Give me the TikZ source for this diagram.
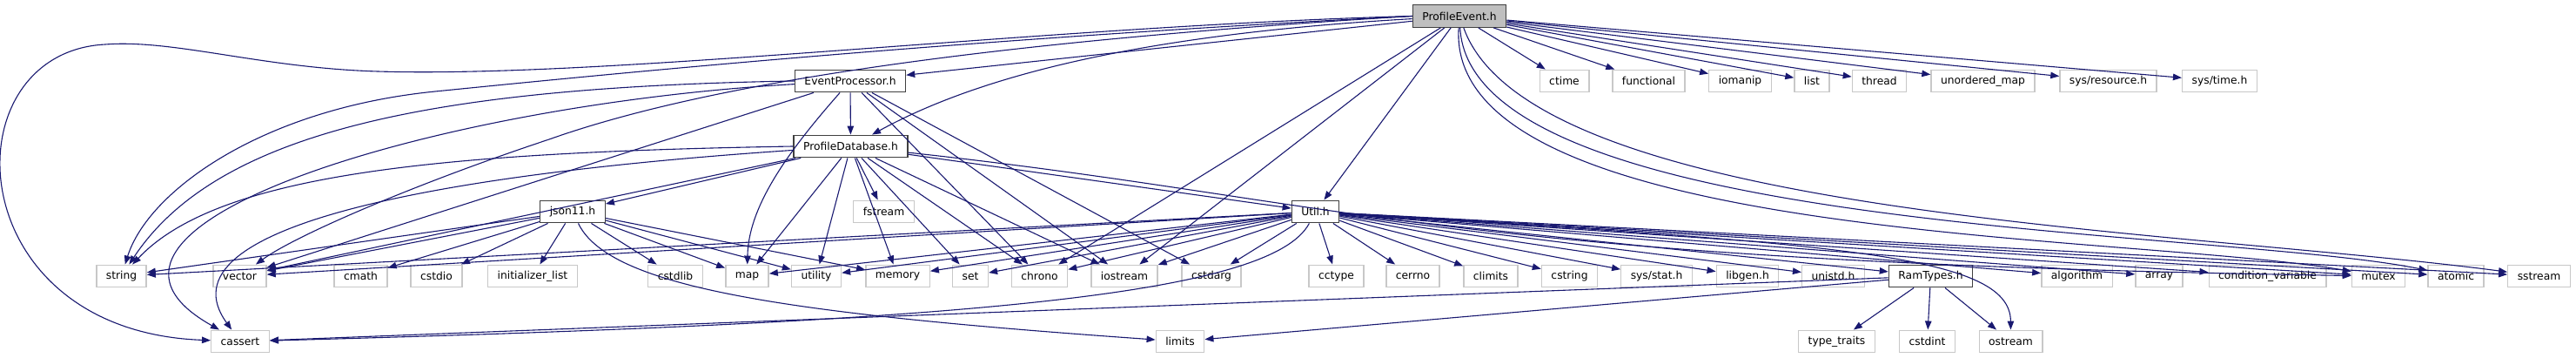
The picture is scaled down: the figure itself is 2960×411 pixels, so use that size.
\documentclass[tikz,border=0pt]{standalone}
\usepackage{fontspec}
\setmainfont{DejaVu Sans}
\definecolor{EdgeNavy}{RGB}{25, 25, 112}
\definecolor{RootGrey}{RGB}{191, 191, 191}
\definecolor{FrameDark}{RGB}{64, 64, 64}
\definecolor{FrameLight}{RGB}{200, 200, 200}
\usetikzlibrary{arrows.meta}

\begin{document}
\begin{tikzpicture}[x=1pt, y=-1pt, font=\fontsize{12.3pt}{14pt}\selectfont,
    base/.style={draw, text centered, minimum height=25.5pt, inner xsep=11pt, inner ysep=0pt, line width=1.4pt},
    root/.style={base, fill=RootGrey, draw=FrameDark},
    hdr/.style={base, fill=white, draw=FrameDark},
    sys/.style={base, fill=white, draw=FrameLight},
    dep/.style={-{Triangle[length=10pt, width=7.5pt]}, draw=EdgeNavy, line width=1.1pt}]

    \useasboundingbox (0,0) rectangle (2960,411);

    % Nodes
    \node [root] (profevent) at (1677,18.5) {ProfileEvent.h};

    \node [hdr] (evproc) at (977,93) {EventProcessor.h};
    \node [sys] (ctime) at (1797.5,93) {ctime};
    \node [sys] (functional) at (1894.5,93) {functional};
    \node [sys] (iomanip) at (1999.5,93) {iomanip};
    \node [sys] (list) at (2082,93) {list};
    \node [sys] (thread) at (2159.5,93) {thread};
    \node [sys] (umap) at (2278.5,93) {unordered\_map};
    \node [sys] (sysres) at (2422.5,93) {sys/resource.h};
    \node [sys] (systime) at (2550.5,93) {sys/time.h};

    \node [hdr] (profdb) at (977.5,168) {ProfileDatabase.h};

    \node [hdr] (json) at (658,243) {json11.h};
    \node [sys] (fstream) at (1015.5,243) {fstream};
    \node [hdr] (util) at (1511.5,243) {Util.h};

    \node [sys] (string) at (139.5,317) {string};
    \node [sys] (vector) at (275.5,317) {vector};
    \node [sys] (cmath) at (414.5,317) {cmath};
    \node [sys] (cstdio) at (501.5,317) {cstdio};
    \node [sys] (initlist) at (612,317) {initializer\_list};
    \node [sys] (cstdlib) at (776,317) {cstdlib};
    \node [sys] (map) at (858.5,317) {map};
    \node [sys] (utility) at (938,317) {utility};
    \node [sys] (memory) at (1031.5,317) {memory};
    \node [sys] (set) at (1115,317) {set};
    \node [sys] (chrono) at (1194.5,317) {chrono};
    \node [sys] (iostream) at (1292,317) {iostream};
    \node [sys] (cstdarg) at (1392,317) {cstdarg};
    \node [sys] (cctype) at (1535.5,317) {cctype};
    \node [sys] (cerrno) at (1623.5,317) {cerrno};
    \node [sys] (climits) at (1713,317) {climits};
    \node [sys] (cstring) at (1803.5,317) {cstring};
    \node [sys] (sysstat) at (1903.5,317) {sys/stat.h};
    \node [sys] (libgen) at (2008,317) {libgen.h};
    \node [sys] (unistd) at (2106.5,317) {unistd.h};
    \node [hdr] (ramtypes) at (2218.5,317) {RamTypes.h};
    \node [sys] (algorithm) at (2386.5,317) {algorithm};
    \node [sys] (array) at (2481,317) {array};
    \node [sys] (condvar) at (2605.5,317) {condition\_variable};
    \node [sys] (mutex) at (2733,317) {mutex};
    \node [sys] (atomic) at (2822,317) {atomic};
    \node [sys] (sstream) at (2917.5,317) {sstream};

    \node [sys] (cassert) at (276,392) {cassert};
    \node [sys] (limits) at (1356,392) {limits};
    \node [sys] (typetraits) at (2110.5,392) {type\_traits};
    \node [sys] (cstdint) at (2214.5,392) {cstdint};
    \node [sys] (ostream) at (2310.5,392) {ostream};

    % Connectors: ProfileEvent.h
    \draw [dep] (profevent) -- (evproc);
    \draw [dep] (profevent) .. controls (1300,40) and (1120,90) .. (profdb);
    \draw [dep] (profevent) -- (util);
    \draw [dep] (profevent) -- (chrono);
    \draw [dep] (profevent) -- (iostream);
    \draw [dep] (profevent) -- (ctime);
    \draw [dep] (profevent) -- (functional);
    \draw [dep] (profevent) -- (iomanip);
    \draw [dep] (profevent) -- (list);
    \draw [dep] (profevent) -- (thread);
    \draw [dep] (profevent) -- (umap);
    \draw [dep] (profevent) -- (sysres);
    \draw [dep] (profevent) -- (systime);
    \draw [dep] (profevent) .. controls (1660,280) and (2450,268) .. (mutex);
    \draw [dep] (profevent) .. controls (1690,270) and (2550,262) .. (atomic);
    \draw [dep] (profevent) .. controls (1760,250) and (2500,262) .. (sstream);
    \draw [dep] (profevent.west) .. controls (1200,30) and (700,90) .. (434,82)
        .. controls (300,78) and (200,45) .. (121,51)
        .. controls (-60,60) and (-50,380) .. (cassert);
    \draw [dep] (profevent.west) .. controls (1100,45) and (700,85) .. (500,105)
        .. controls (300,125) and (170,220) .. (string);
    \draw [dep] (profevent.west) .. controls (1100,50) and (800,100) .. (631,160)
        .. controls (480,210) and (340,270) .. (vector);

    % Connectors: EventProcessor.h
    \draw [dep] (evproc) -- (profdb);
    \draw [dep] (evproc.west) .. controls (500,100) and (250,150) .. (string);
    \draw [dep] (evproc) -- (vector);
    \draw [dep] (evproc) .. controls (500,120) and (40,260) .. (cassert);
    \draw [dep] (evproc) .. controls (900,180) and (860,240) .. (map);
    \draw [dep] (evproc) -- (chrono);
    \draw [dep] (evproc) -- (iostream);
    \draw [dep] (evproc) -- (cstdarg);

    % Connectors: ProfileDatabase.h
    \draw [dep] (profdb.west) .. controls (500,175) and (250,200) .. (string);
    \draw [dep] (profdb) -- (vector);
    \draw [dep] (profdb) .. controls (500,200) and (180,260) .. (cassert);
    \draw [dep] (profdb) -- (json);
    \draw [dep] (profdb) -- (map);
    \draw [dep] (profdb) -- (utility);
    \draw [dep] (profdb) -- (memory);
    \draw [dep] (profdb) -- (fstream);
    \draw [dep] (profdb) -- (set);
    \draw [dep] (profdb) -- (chrono);
    \draw [dep] (profdb) -- (iostream);
    \draw [dep] (profdb) -- (util);
    \draw [dep] (profdb) .. controls (1550,230) and (1650,300) .. (mutex);

    % Connectors: json11.h
    \draw [dep] (json) -- (string);
    \draw [dep] (json) -- (vector);
    \draw [dep] (json) -- (cmath);
    \draw [dep] (json) -- (cstdio);
    \draw [dep] (json) -- (initlist);
    \draw [dep] (json) -- (cstdlib);
    \draw [dep] (json) -- (map);
    \draw [dep] (json) -- (utility);
    \draw [dep] (json) -- (memory);
    \draw [dep] (json) .. controls (700,330) and (900,360) .. (limits);

    % Connectors: Util.h
    \draw [dep] (util) -- (string);
    \draw [dep] (util) -- (vector);
    \draw [dep] (util) -- (map);
    \draw [dep] (util) -- (utility);
    \draw [dep] (util) -- (memory);
    \draw [dep] (util) -- (set);
    \draw [dep] (util) -- (chrono);
    \draw [dep] (util) -- (iostream);
    \draw [dep] (util) -- (cstdarg);
    \draw [dep] (util) -- (cctype);
    \draw [dep] (util) -- (cerrno);
    \draw [dep] (util) -- (climits);
    \draw [dep] (util) -- (cstring);
    \draw [dep] (util) -- (sysstat);
    \draw [dep] (util) -- (libgen);
    \draw [dep] (util) -- (unistd);
    \draw [dep] (util) -- (ramtypes);
    \draw [dep] (util) -- (algorithm);
    \draw [dep] (util) -- (array);
    \draw [dep] (util) -- (condvar);
    \draw [dep] (util) -- (mutex);
    \draw [dep] (util) -- (atomic);
    \draw [dep] (util) -- (sstream);
    \draw [dep] (util) .. controls (2100,280) and (2310,290) .. (ostream);
    \draw [dep] (util) .. controls (1460,340) and (1100,370) .. (cassert);

    % Connectors: RamTypes.h
    \draw [dep] (ramtypes) -- (typetraits);
    \draw [dep] (ramtypes) -- (cstdint);
    \draw [dep] (ramtypes) -- (ostream);
    \draw [dep] (ramtypes) -- (cassert);
    \draw [dep] (ramtypes) -- (limits);
  \end{tikzpicture}
\end{document}
